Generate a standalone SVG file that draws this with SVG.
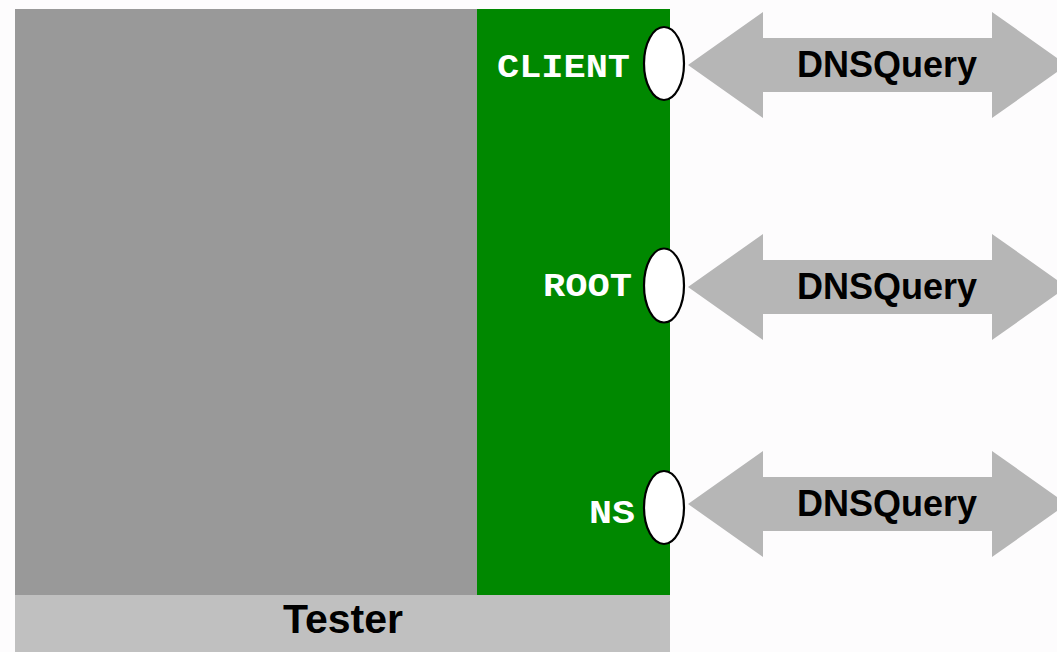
<svg xmlns="http://www.w3.org/2000/svg" width="1057" height="652" viewBox="0 0 1057 652">
  <defs>
    <style>
      .port { fill: #ffffff; stroke: #000000; stroke-width: 2.2; }
      .plabel { font-family: "Liberation Mono", "Courier New", monospace; font-weight: bold; font-size: 34px; fill: #ffffff; text-anchor: end; }
      .arrow { fill: #b6b6b6; }
      .alabel { font-family: "Liberation Sans", Arial, sans-serif; font-weight: bold; font-size: 36px; fill: #000000; text-anchor: middle; }
    </style>
    <path id="dbl" d="M688,0 L763,-53 L763,-27 L992,-27 L992,-53 L1067,0 L992,53 L992,27 L763,27 L763,53 Z"/>
  </defs>
  <rect x="0" y="0" width="1057" height="652" fill="#fdfcfd"/>
  <g id="tester">
    <rect x="15" y="9" width="462" height="586" fill="#999999"/>
    <rect x="477" y="9" width="193" height="586" fill="#008800"/>
    <rect x="15" y="595" width="655" height="57" fill="#c0c0c0"/>
    <text x="343" y="633" font-family="'Liberation Sans', Arial, sans-serif" font-weight="bold" font-size="41" text-anchor="middle" fill="#000000">Tester</text>
  </g>
  <g id="connectors">
    <use href="#dbl" class="arrow" transform="translate(0,65)"/>
    <use href="#dbl" class="arrow" transform="translate(0,287)"/>
    <use href="#dbl" class="arrow" transform="translate(0,504)"/>
  </g>
  <g id="port-client">
    <text class="plabel" x="630" y="77" textLength="133" lengthAdjust="spacingAndGlyphs">CLIENT</text>
    <ellipse class="port" cx="664" cy="63.5" rx="20" ry="36.5"/>
  </g>
  <g id="port-root">
    <text class="plabel" x="632" y="296" textLength="89" lengthAdjust="spacingAndGlyphs">ROOT</text>
    <ellipse class="port" cx="664" cy="285.5" rx="20" ry="37"/>
  </g>
  <g id="port-ns">
    <text class="plabel" x="635" y="523" textLength="46" lengthAdjust="spacingAndGlyphs">NS</text>
    <ellipse class="port" cx="664" cy="507.5" rx="20" ry="36.5"/>
  </g>
  <g id="label-1"><text class="alabel" x="887" y="77">DNSQuery</text></g>
  <g id="label-2"><text class="alabel" x="887" y="299">DNSQuery</text></g>
  <g id="label-3"><text class="alabel" x="887" y="516">DNSQuery</text></g>
</svg>
